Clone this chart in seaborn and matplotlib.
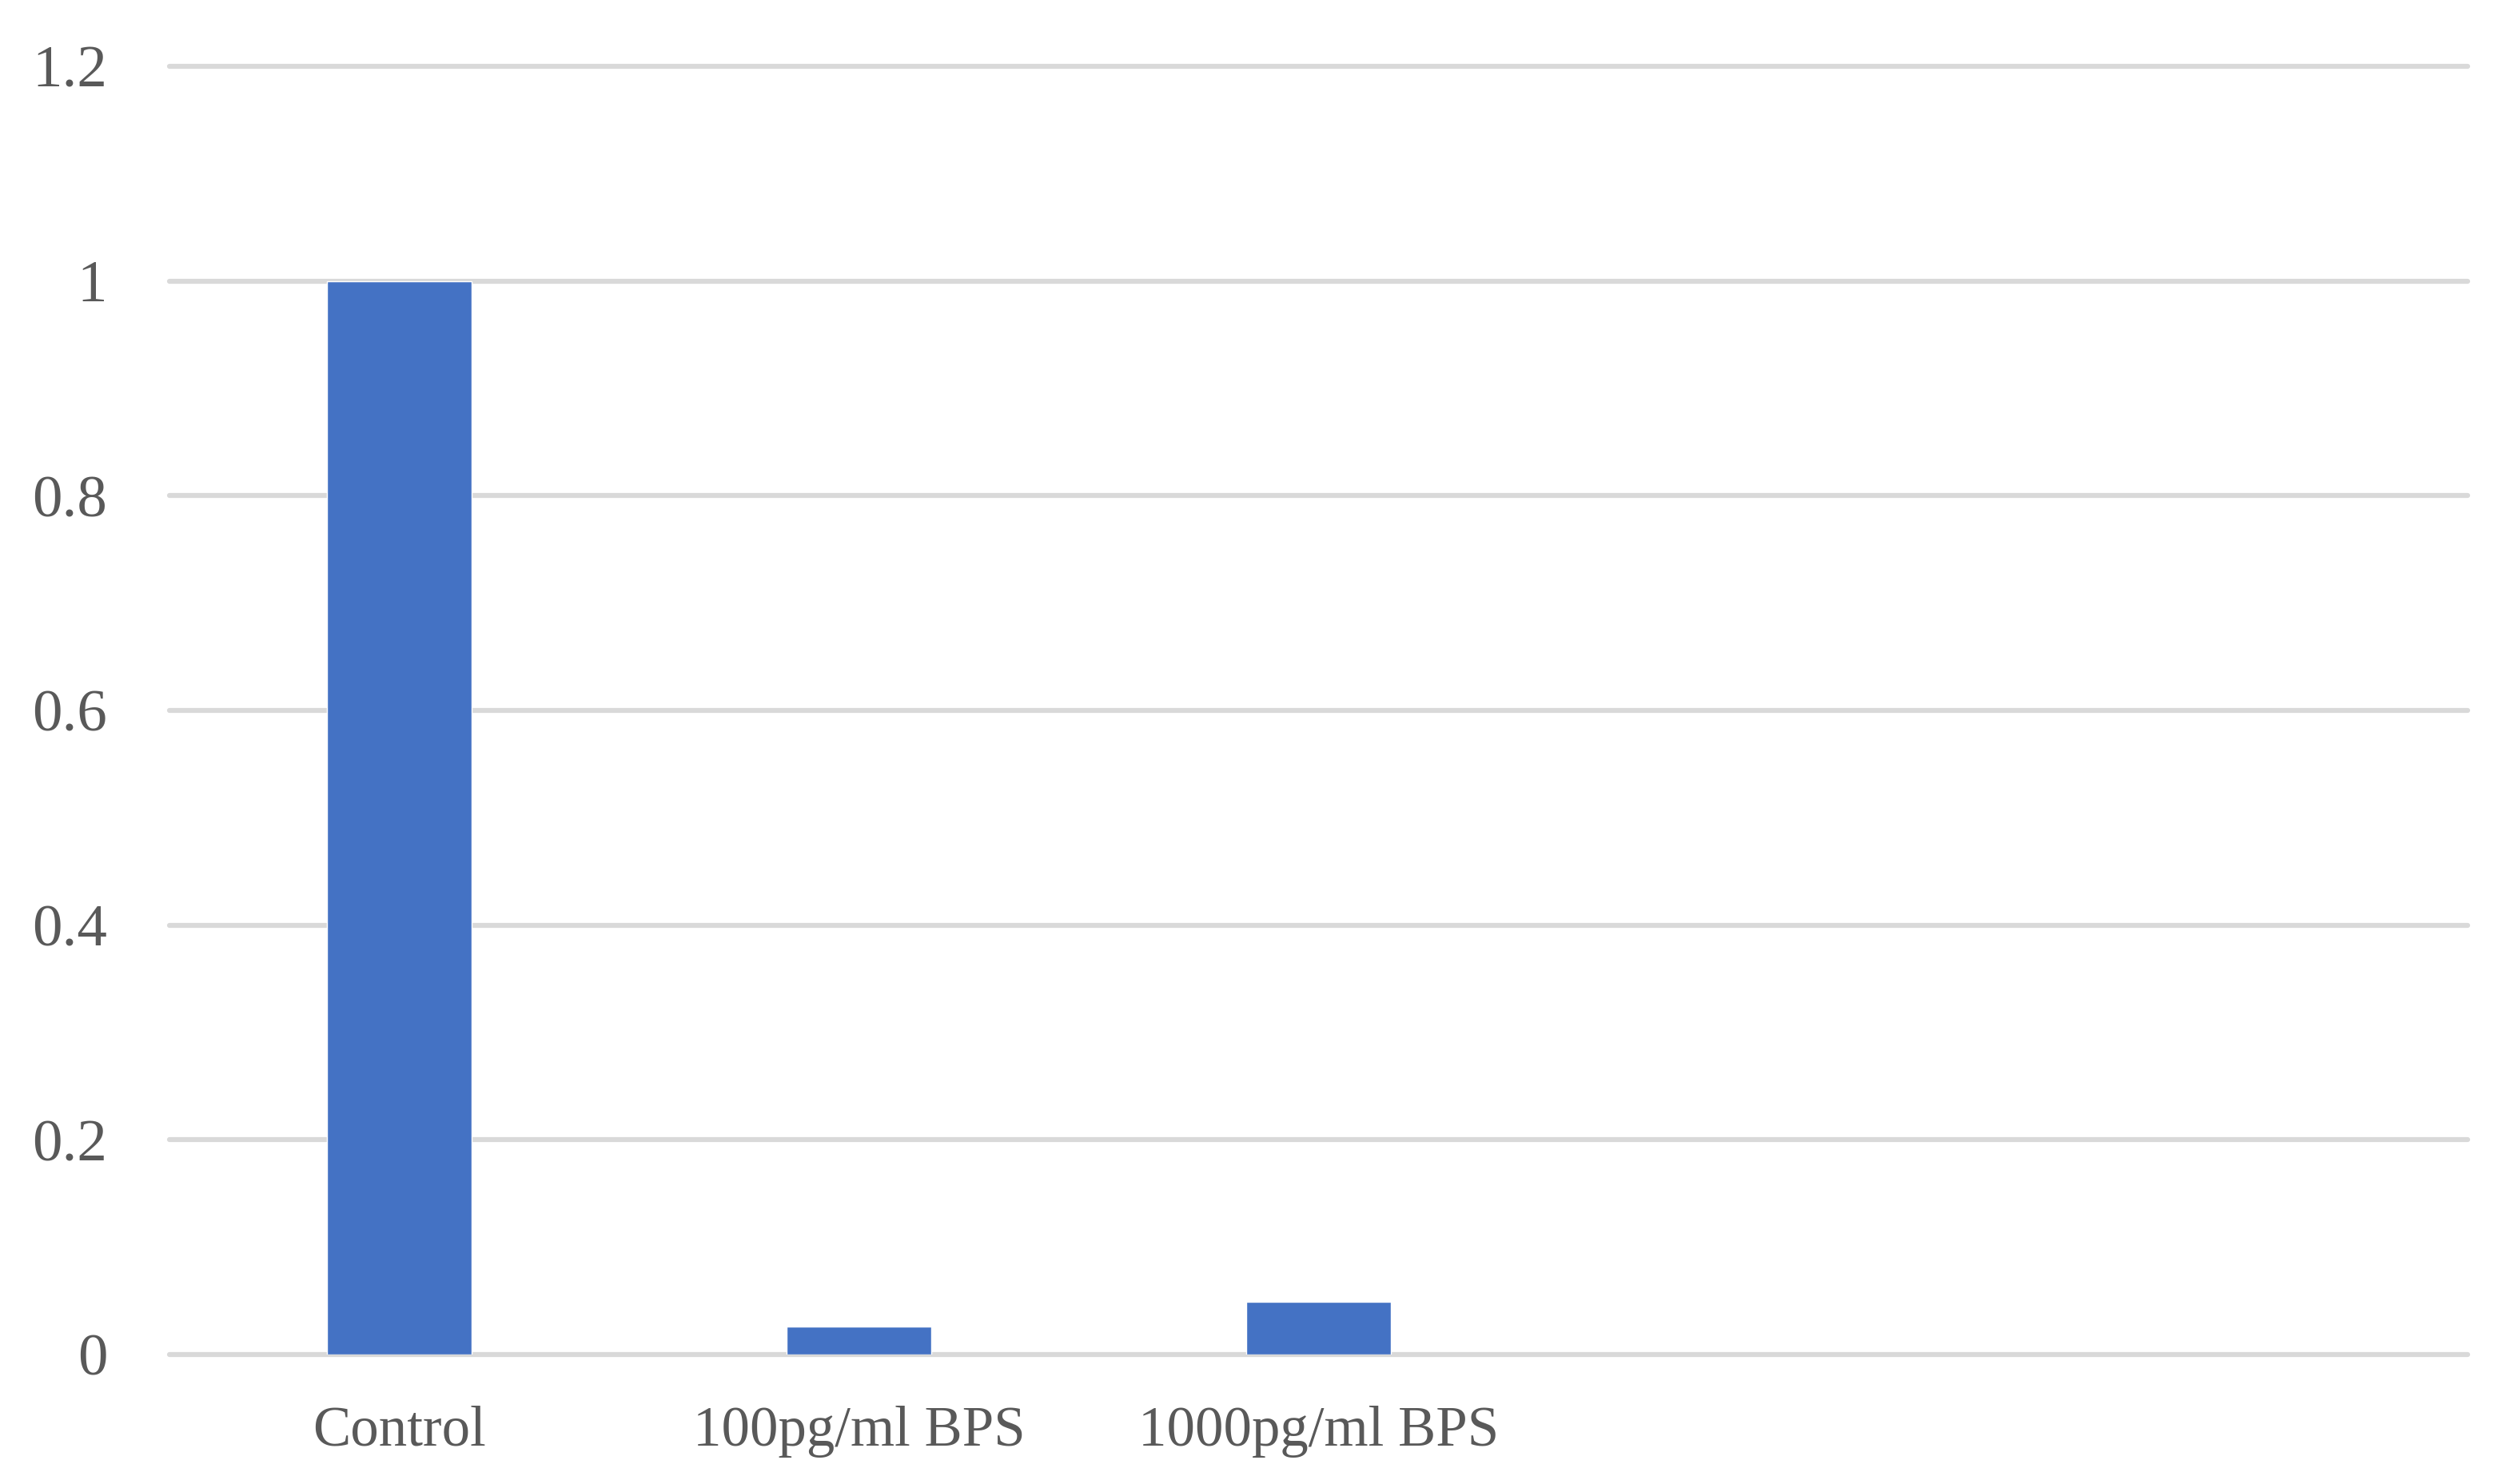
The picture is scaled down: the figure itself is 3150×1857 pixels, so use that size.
import numpy as np
import pandas as pd
import seaborn as sns
from matplotlib import pyplot as plt

# chart data
categories = ['Control', '100pg/ml BPS', '1000pg/ml BPS']
empty_slots = ['', ' ']          # two unused category slots on the right
values = [1.0, 0.026, 0.049]
yticks = [0, 0.2, 0.4, 0.6, 0.8, 1.0, 1.2]
ytick_labels = ['0', '0.2', '0.4', '0.6', '0.8', '1', '1.2']

df = pd.DataFrame({'group': categories, 'value': values})

# style
sns.set_style('white')
plt.rcParams['font.family'] = ['Liberation Serif', 'DejaVu Serif']
text_color = '#595959'
grid_color = '#d9d9d9'
bar_color = '#4472c4'

fig = plt.figure(figsize=(31.5, 18.57), dpi=100)
ax = fig.add_axes([0.0673, 0.0872, 0.9127, 0.8681])

sns.barplot(data=df, x='group', y='value', order=categories + empty_slots,
            color=bar_color, saturation=1, width=0.316, ax=ax, zorder=3)

# axes, grid, ticks
ax.set_xlim(-0.5, len(categories) + len(empty_slots) - 0.5)
ax.set_ylim(0, 1.2)
ax.set_yticks(yticks)
ax.set_yticklabels(ytick_labels)
for y in yticks:
    ax.axhline(y, color=grid_color, linewidth=4.5, zorder=1, clip_on=False)
for side in ['top', 'right', 'left', 'bottom']:
    ax.spines[side].set_visible(False)
ax.tick_params(axis='y', length=0, pad=56, labelsize=54,
               labelcolor=text_color)
ax.tick_params(axis='x', length=0, pad=46, labelsize=51,
               labelcolor=text_color)
ax.set_xlabel('')
ax.set_ylabel('')

plt.savefig('out.png', dpi=100)
plt.close()
